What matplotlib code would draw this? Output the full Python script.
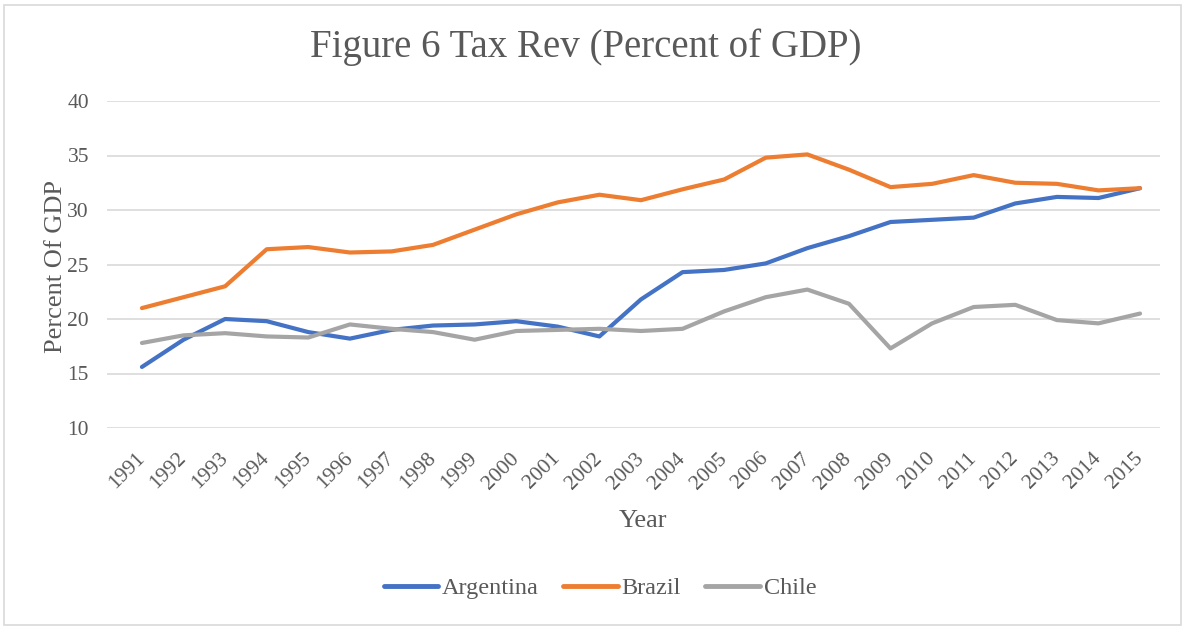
import matplotlib
matplotlib.use('Agg')
import matplotlib.pyplot as plt
from matplotlib.patches import Rectangle


years = [str(y) for y in range(1991, 2016)]

argentina = [15.6, 18.1, 20.0, 19.8, 18.8, 18.2, 19.0, 19.4, 19.5, 19.8, 19.3, 18.4,
             21.8, 24.3, 24.5, 25.1, 26.5, 27.6, 28.9, 29.1, 29.3, 30.6, 31.2, 31.1, 32.0]
brazil = [21.0, 22.0, 23.0, 26.4, 26.6, 26.1, 26.2, 26.8, 28.2, 29.6, 30.7, 31.4,
          30.9, 31.9, 32.8, 34.8, 35.1, 33.7, 32.1, 32.4, 33.2, 32.5, 32.4, 31.8, 32.0]
chile = [17.8, 18.5, 18.7, 18.4, 18.3, 19.5, 19.1, 18.8, 18.1, 18.9, 19.0, 19.1,
         18.9, 19.1, 20.7, 22.0, 22.7, 21.4, 17.3, 19.6, 21.1, 21.3, 19.9, 19.6, 20.5]

series = [('Argentina', argentina, '#4472C4'),
          ('Brazil', brazil, '#ED7D31'),
          ('Chile', chile, '#A5A5A5')]

text_color = '#595959'
grid_color = '#D9D9D9'

plt.rcParams['font.family'] = ['Liberation Serif', 'DejaVu Serif']

W, H = 1185, 626
fig = plt.figure(figsize=(W / 100, H / 100), dpi=100)
ax = fig.add_axes([107 / W, 1 - 428 / H, (1160 - 107) / W, (428 - 101) / H])

x = list(range(len(years)))
for name, vals, color in series:
    ax.plot(x, vals, color=color, linewidth=3, label=name, solid_capstyle='round')

ax.set_ylim(10, 40)
ax.set_yticks(range(10, 41, 5))
ax.set_xlim(-0.84, 24.48)
ax.set_xticks(x)
ax.set_xticklabels(years, rotation=45, ha='right', va='center', rotation_mode='anchor')

ax.grid(axis='y', color=grid_color, linewidth=1.2)
ax.set_axisbelow(True)
for s in ax.spines.values():
    s.set_visible(False)
ax.tick_params(axis='both', length=0, labelsize=15.5, colors=text_color)
ax.tick_params(axis='y', pad=13)
ax.tick_params(axis='x', pad=20)

fig.text(586 / W, 1 - 47 / H, 'Figure 6 Tax Rev (Percent of GDP)', fontsize=28,
         color=text_color, ha='center', va='center')
fig.text(56 / W, 1 - 266 / H, 'Percent Of GDP', fontsize=19, color=text_color,
         rotation=90, ha='center', va='center')
fig.text(643 / W, 1 - 521 / H, 'Year', fontsize=19, color=text_color,
         ha='center', va='center')

leg = fig.legend(loc='center', bbox_to_anchor=(600 / W, 1 - 588 / H), ncol=3, frameon=False,
                 fontsize=17.5, handlelength=2.25, handletextpad=0.15, columnspacing=1.0)
for t in leg.get_texts():
    t.set_color(text_color)
for h in leg.legend_handles:
    h.set_linewidth(3.5)

fig.patches.append(Rectangle((4 / W, 1 / H), 1177 / W, 620 / H, transform=fig.transFigure,
                             fill=False, edgecolor=grid_color, linewidth=1.2))

fig.savefig('out.png', dpi=100)
